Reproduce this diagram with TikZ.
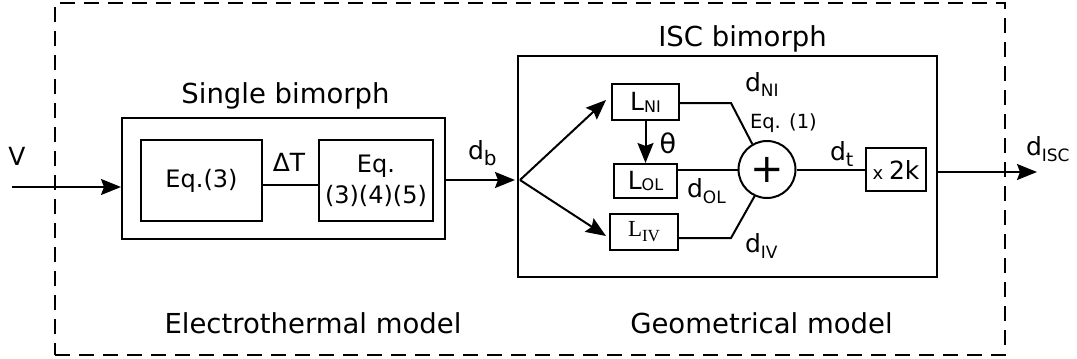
\documentclass[tikz,border=0pt]{standalone}
\usepackage{fontspec}
\setmainfont{DejaVu Sans}
\newfontfamily\timesf{Liberation Serif}
\usetikzlibrary{arrows.meta}
\newcommand\fs[1]{\fontsize{#1}{#1}\selectfont}
\newcommand\lowsub[3]{\raisebox{-#1pt}{\fs{#2}#3}}
\begin{document}
\begin{tikzpicture}[x=1pt,y=-1pt, line width=2pt,
  >={Stealth[length=20pt,width=16pt,inset=3pt]},
  blk/.style={draw, line width=2pt, inner sep=0pt, align=center},
  lbl/.style={inner sep=0pt},
  title/.style={inner sep=0pt, anchor=base, font=\fs{27.5}}]
\useasboundingbox (0,0) rectangle (1077,359);
% boxes
\node[blk, minimum width=950, minimum height=352, dash pattern=on 15pt off 9pt] (outer) at (530,179) {};
\node[blk, minimum width=323, minimum height=121] (sb) at (283.5,178.5) {};
\node[blk, minimum width=121, minimum height=81, font=\fs{24}] (eq3) at (201.5,180.5) {Eq.(3)};
\node[blk, minimum width=114, minimum height=81, font=\fontsize{24}{31}\selectfont] (eq345) at (376,180.5) {Eq.\\(3)(4)(5)};
\node[blk, minimum width=419, minimum height=221] (isc) at (727.5,166.5) {};
\node[blk, minimum width=67, minimum height=36, font=\fs{25}] (lni) at (645.5,102) {L\lowsub{2}{16}{NI}};
\node[blk, minimum width=63, minimum height=34, font=\fs{25}] (lol) at (645.5,181) {L\lowsub{1}{16}{OL}};
\node[blk, minimum width=68, minimum height=36, font=\timesf\fs{23}] (liv) at (644,232) {L\lowsub{5}{17}{IV}};
\node[blk, circle, minimum size=57, font=\fs{40}] (sum) at (767,169.5) {+};
\node[blk, minimum width=60, minimum height=43] (x2k) at (896,169.5) {\fs{18}x \fs{25}2k};
% labels
\node[lbl, font=\fs{25}, anchor=base] (vlbl) at (17,165) {V};
\node[lbl, font=\fs{25}, anchor=base] (dT) at (289,171) {ΔT};
\node[lbl, anchor=base west] (db) at (467,159) {\fs{25}d\lowsub{6}{20}{b}};
\node[title] (t1) at (285.5,103) {Single bimorph};
\node[title] (t2) at (313,333) {Electrothermal model};
\node[title] (t3) at (742.5,46) {ISC bimorph};
\node[title] (t4) at (761.5,333) {Geometrical model};
\node[lbl, anchor=base] (th) at (668,153) {\fs{27}θ};
\node[lbl, anchor=base west] (dni) at (744,91) {\fs{25}d\lowsub{5}{17}{NI}};
\node[lbl, anchor=base west] (eq1) at (749,128) {\fs{19.5}Eq. (1)};
\node[lbl, anchor=base west] (dol) at (686,197) {\fs{25}d\lowsub{6}{17}{OL}};
\node[lbl, anchor=base west] (div) at (744,252) {\fs{25}d\lowsub{6}{17}{IV}};
\node[lbl, anchor=base west] (dt) at (829,160) {\fs{25}d\lowsub{6}{19}{t}};
\node[lbl, anchor=base west] (disc) at (1025,155) {\fs{25}d\lowsub{6}{17}{ISC}};
% connectors
\coordinate (vin) at (12,187);
\draw[->] (vin) -- (vin -| sb.west);
\draw ([yshift=-4.5pt]eq3.east) -- ([yshift=-4.5pt]eq345.west);
\coordinate (dbtip) at (515,180);
\draw[->] (sb.east |- dbtip) -- (dbtip);
\coordinate (br) at (520,180);
\draw[->] (br) -- ([xshift=-5pt,yshift=2pt]lni.west);
\draw[->] (br) -- ([xshift=-3pt,yshift=-4pt]liv.west);
\draw[->] (lni.south) -- (lol.north);
\coordinate (nib) at (731,103);
\draw (lni.east |- nib) -- (nib) -- (sum.120);
\coordinate (ivb) at (731,238);
\draw (liv.east |- ivb) -- (ivb) -- (sum.245);
\draw (lol.east |- sum.west) -- (sum.west);
\draw (sum.east) -- (x2k.west |- sum.east);
\coordinate (out) at (1037,172);
\draw[->] (isc.east |- out) -- (out);
\end{tikzpicture}
\end{document}
